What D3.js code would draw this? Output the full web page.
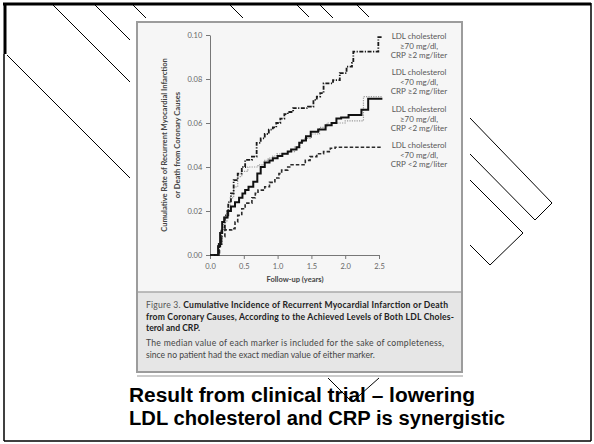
<!DOCTYPE html>
<html><head><meta charset="utf-8">
<script src="https://cdn.jsdelivr.net/npm/d3@7"></script>
<style>body{margin:0;background:#fff}svg{display:block}</style>
</head><body>
<svg id="c" width="594" height="444"></svg>
<script>
// ---- data ----
const xTicks = [0, 0.5, 1.0, 1.5, 2.0, 2.5];
const yTicks = [0, 0.02, 0.04, 0.06, 0.08, 0.10];
const seriesNames = ["LDL≥70,CRP≥2", "LDL<70,CRP≥2", "LDL≥70,CRP<2", "LDL<70,CRP<2"];
// step points: [time (years), cumulative rate]
const seriesA_t = [0,0.09,0.13,0.17,0.22,0.27,0.31,0.35,0.41,0.47,0.52,0.62,0.69,0.75,0.81,0.87,0.93,0.98,1.04,1.10,1.15,1.23,1.45,1.53,1.58,1.63,1.68,1.82,1.92,2.02,2.10,2.12,2.49,2.55];
const seriesA_v = [0,0,0.005,0.012,0.018,0.024,0.028,0.034,0.037,0.040,0.0432,0.0447,0.051,0.053,0.055,0.057,0.058,0.060,0.062,0.064,0.065,0.0668,0.0674,0.0705,0.072,0.0736,0.078,0.0795,0.0827,0.0856,0.0873,0.0924,0.099,0.099];
const seriesB_t = [0,0.09,0.12,0.16,0.20,0.25,0.30,0.35,0.41,0.47,0.56,0.71,0.80,0.86,0.93,0.99,1.15,1.25,1.33,1.40,1.50,1.62,1.73,2.00,2.27,2.55];
const seriesB_v = [0,0,0.005,0.011,0.015,0.020,0.026,0.031,0.0356,0.038,0.040,0.041,0.043,0.044,0.045,0.046,0.047,0.049,0.0515,0.053,0.055,0.058,0.060,0.061,0.072,0.072];
const seriesC_t = [0,0.09,0.12,0.15,0.18,0.21,0.26,0.31,0.37,0.43,0.48,0.52,0.57,0.64,0.70,0.75,0.81,0.88,0.93,1.00,1.07,1.15,1.20,1.28,1.32,1.36,1.42,1.49,1.60,1.71,1.80,1.87,1.94,2.05,2.24,2.34,2.55];
const seriesC_v = [0,0,0.004,0.010,0.015,0.017,0.020,0.022,0.024,0.026,0.028,0.0295,0.031,0.0333,0.037,0.040,0.042,0.043,0.044,0.045,0.046,0.047,0.048,0.049,0.051,0.052,0.054,0.056,0.057,0.059,0.060,0.062,0.0625,0.0636,0.066,0.071,0.071];
const seriesD_t = [0,0.10,0.14,0.17,0.22,0.32,0.37,0.41,0.47,0.52,0.62,0.67,0.71,0.81,0.88,0.96,1.02,1.06,1.15,1.20,1.41,1.48,1.58,1.68,1.78,1.85,2.55];
const seriesD_v = [0,0,0.005,0.0083,0.0114,0.012,0.015,0.018,0.021,0.0236,0.026,0.028,0.0295,0.031,0.033,0.035,0.037,0.0386,0.040,0.041,0.043,0.0447,0.046,0.047,0.0485,0.049,0.049];
const legendLines = [
  ["LDL cholesterol","≥70 mg/dl,","CRP ≥2 mg/liter"],
  ["LDL cholesterol","<70 mg/dl,","CRP ≥2 mg/liter"],
  ["LDL cholesterol","≥70 mg/dl,","CRP <2 mg/liter"],
  ["LDL cholesterol","<70 mg/dl,","CRP <2 mg/liter"]
];
const yTitle = ["Cumulative Rate of Recurrent Myocardial Infarction","or Death from Coronary Causes"];
const xTitle = "Follow-up (years)";
const captionBold1 = "Cumulative Incidence of Recurrent Myocardial Infarction or Death";
const captionBold2 = "from Coronary Causes, According to the Achieved Levels of Both LDL Choles-";
const captionBold3 = "terol and CRP.";
const captionNote = ["The median value of each marker is included for the sake of completeness,","since no patient had the exact median value of either marker."];
const slideText = ["Result from clinical trial – lowering","LDL cholesterol and CRP is synergistic"];

// ---- drawing ----
const svg = d3.select("#c");
const decoLines = [
  [[53,5],[130,82]],[[95,5],[130,40]],[[133,5],[146,18]],[[7,55],[130,178]],
  [[230,5],[243,18]],[[297,5],[309,17]],[[320,5],[333,18]],[[357,5],[369,17]],
  [[470,118],[552,203]],[[552,203],[535,220]],[[470,154],[535,220]],
  [[470,180],[523,233]],[[523,233],[490,265]],[[470,245],[490,265]],
  [[328,378],[352,402]],[[379,378],[352,402]]
];
svg.append("g").selectAll("line").data(decoLines).join("line")
  .attr("x1",d=>d[0][0]).attr("y1",d=>d[0][1]).attr("x2",d=>d[1][0]).attr("y2",d=>d[1][1])
  .attr("stroke","#000").attr("stroke-width",1);
// white margin around figure
svg.append("rect").attr("x",130).attr("y",18).attr("width",340).attr("height",358).attr("fill","#fff");
// frame
svg.append("line").attr("x1",3).attr("x2",591).attr("y1",4).attr("y2",4).attr("stroke","#000").attr("stroke-width",3);
svg.append("line").attr("x1",5).attr("x2",5).attr("y1",3).attr("y2",54).attr("stroke","#000").attr("stroke-width",3);
svg.append("line").attr("x1",4).attr("x2",4).attr("y1",54).attr("y2",441).attr("stroke","#000").attr("stroke-width",1.5);
svg.append("line").attr("x1",591).attr("x2",591).attr("y1",3).attr("y2",441).attr("stroke","#000").attr("stroke-width",1.5);
svg.append("line").attr("x1",4).attr("x2",591).attr("y1",441).attr("y2",441).attr("stroke","#000").attr("stroke-width",1.5);

// figure box
svg.append("rect").attr("x",137).attr("y",22).attr("width",325).attr("height",270).attr("fill","#f6f6f6");
svg.append("rect").attr("x",137).attr("y",292).attr("width",325).attr("height",80).attr("fill","#e6e6e6");
svg.append("line").attr("x1",137).attr("x2",462).attr("y1",292).attr("y2",292).attr("stroke","#a8a8a8").attr("stroke-width",1.5);
svg.append("rect").attr("x",137).attr("y",22).attr("width",325).attr("height",350).attr("fill","none").attr("stroke","#9c9c9c").attr("stroke-width",2);
svg.append("line").attr("x1",137).attr("x2",463).attr("y1",376).attr("y2",376).attr("stroke","#bbb").attr("stroke-width",1.5);

const x = d3.scaleLinear().domain([0,2.5]).range([210,379]);
const y = d3.scaleLinear().domain([0,0.10]).range([255,35]);
const tickFont = "Lato, 'Open Sans', sans-serif";

const gx = svg.append("g").attr("transform","translate(0,255)")
  .call(d3.axisBottom(x).tickValues(xTicks).tickFormat(d3.format(".1f")).tickSize(4).tickSizeOuter(0));
const gy = svg.append("g").attr("transform","translate(210,0)")
  .call(d3.axisLeft(y).tickValues(yTicks).tickFormat(d3.format(".2f")).tickSize(4).tickSizeOuter(0));
[gx,gy].forEach(g=>{
  g.select(".domain").attr("stroke","#777").attr("stroke-width",1);
  g.selectAll(".tick line").attr("stroke","#777");
  g.selectAll(".tick text").attr("fill","#666").attr("font-family",tickFont).attr("font-size",7.5);
});
gx.selectAll(".tick text").attr("dy","0.9em");
gy.selectAll(".tick text").attr("dx","-0.1em");

svg.append("text").attr("x",295).attr("y",282).attr("text-anchor","middle")
  .attr("font-family",tickFont).attr("font-weight","bold").attr("font-size",7.5).attr("fill","#444").text(xTitle);
yTitle.forEach((t,i)=>{
  svg.append("text").attr("transform",`translate(${167+i*13},145) rotate(-90)`).attr("text-anchor","middle")
    .attr("font-family",tickFont).attr("font-weight","bold").attr("font-size",7.6).attr("fill","#444").text(t);
});

const line = d3.line().x(d=>x(d[0])).y(d=>y(d[1])).curve(d3.curveStepAfter);
const zip = (t,v)=>t.map((d,i)=>[d,v[i]]);
const series = [
  {name:seriesNames[3], data:zip(seriesD_t,seriesD_v), stroke:"#2a2a2a", w:1.6, dash:"3.5,2"},
  {name:seriesNames[1], data:zip(seriesB_t,seriesB_v), stroke:"#999", w:1.2, dash:"1.2,1.2"},
  {name:seriesNames[2], data:zip(seriesC_t,seriesC_v), stroke:"#111", w:2, dash:null},
  {name:seriesNames[0], data:zip(seriesA_t,seriesA_v), stroke:"#1a1a1a", w:1.8, dash:"4,1.5,1.2,1.5"}
];
svg.append("g").selectAll("path").data(series).join("path")
  .attr("d",d=>line(d.data)).attr("fill","none").attr("stroke",d=>d.stroke)
  .attr("stroke-width",d=>d.w).attr("stroke-dasharray",d=>d.dash);

const legY = [39,75,112,148];
legendLines.forEach((grp,gi)=>{
  grp.forEach((t,li)=>{
    svg.append("text").attr("x",419).attr("y",legY[gi]+li*9.5).attr("text-anchor","middle")
      .attr("font-family",tickFont).attr("font-size",8).attr("fill","#595959").text(t);
  });
});

// caption
const cap = svg.append("g").attr("font-family",tickFont).attr("font-size",8.6);
const l1 = cap.append("text").attr("x",146).attr("y",308).attr("textLength",302).attr("lengthAdjust","spacing");
l1.append("tspan").attr("fill","#555").text("Figure 3. ");
l1.append("tspan").attr("fill","#222").attr("font-weight","bold").text(captionBold1);
cap.append("text").attr("x",146).attr("y",319.5).attr("textLength",308).attr("lengthAdjust","spacing")
  .attr("fill","#222").attr("font-weight","bold").text(captionBold2);
cap.append("text").attr("x",146).attr("y",330.5).attr("fill","#222").attr("font-weight","bold").text(captionBold3);
cap.append("text").attr("x",146).attr("y",346).attr("textLength",298).attr("lengthAdjust","spacing")
  .attr("fill","#444").text(captionNote[0]);
cap.append("text").attr("x",146).attr("y",358).attr("fill","#444").text(captionNote[1]);

// slide text
slideText.forEach((t,i)=>{
  svg.append("text").attr("x",129).attr("y",401.5+i*23.5)
    .attr("font-family","'Liberation Sans', Arial, sans-serif").attr("font-weight","bold")
    .attr("font-size",20).attr("fill","#000")
    .attr("textLength", i===0?346:376).attr("lengthAdjust","spacingAndGlyphs").text(t);
});
</script>
</body></html>
